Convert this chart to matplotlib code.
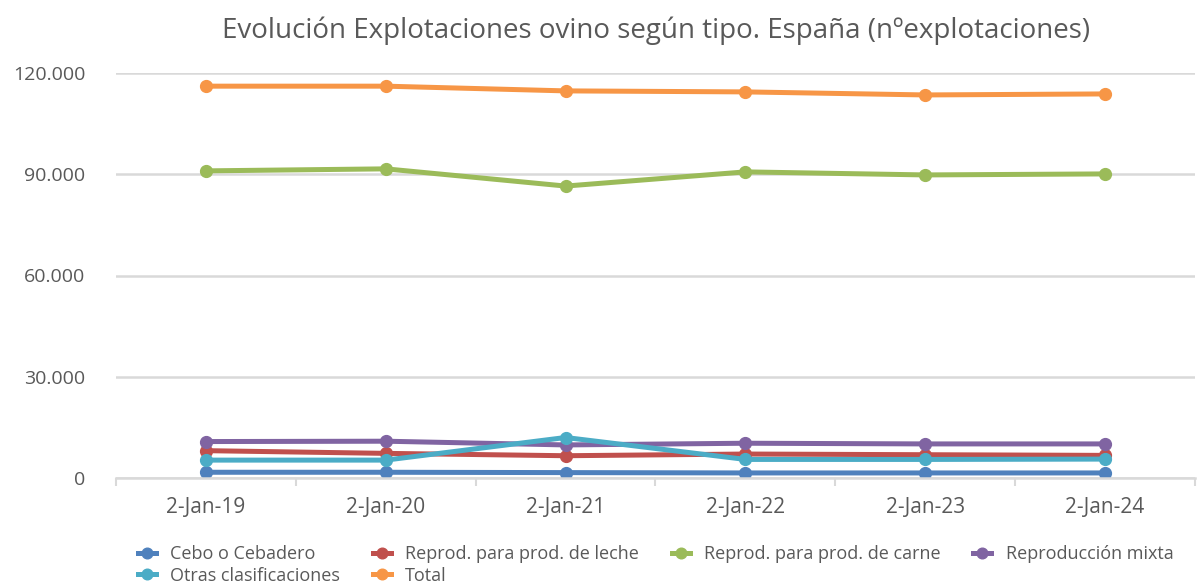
import matplotlib.pyplot as plt
from matplotlib.ticker import FuncFormatter

plt.rcParams['font.family'] = ['Open Sans', 'DejaVu Sans']

fechas = ["2-Jan-19", "2-Jan-20", "2-Jan-21", "2-Jan-22", "2-Jan-23", "2-Jan-24"]

cebo = [1700, 1700, 1600, 1500, 1500, 1500]
leche = [8100, 7300, 6600, 7100, 6900, 6700]
carne = [91000, 91600, 86500, 90700, 89800, 90100]
mixta = [10800, 10900, 9800, 10300, 10100, 10100]
otras = [5300, 5300, 12000, 5500, 5500, 5600]
total = [116100, 116100, 114700, 114400, 113500, 113800]

series = [
    ("Cebo o Cebadero", cebo, "#4F81BD"),
    ("Reprod. para prod. de leche", leche, "#C0504D"),
    ("Reprod. para prod. de carne", carne, "#9BBB59"),
    ("Reproducción mixta", mixta, "#8064A2"),
    ("Otras clasificaciones", otras, "#4BACC6"),
    ("Total", total, "#F79646"),
]

fig = plt.figure(figsize=(12.03, 5.85), dpi=100)
ax = fig.add_axes([116 / 1203, 1 - 478 / 585, 1079 / 1203, 405 / 585])

x = list(range(len(fechas)))
lineas = []
for nombre, valores, color in series:
    l, = ax.plot(x, valores, color=color, linewidth=3.6, marker="o", markersize=8.5, label=nombre)
    lineas.append(l)

ax.set_xlim(-0.5, 5.5)
ax.set_ylim(0, 120000)
ax.set_yticks([0, 30000, 60000, 90000, 120000])
ax.yaxis.set_major_formatter(FuncFormatter(lambda v, p: "0" if v == 0 else f"{int(v):,}".replace(",", ".")))
ax.set_xticks(x)
ax.set_xticklabels(fechas)
ax.set_xticks([i - 0.5 for i in range(7)], minor=True)
ax.tick_params(axis="x", which="major", length=0, pad=14, labelsize=15, labelcolor="#595959")
ax.tick_params(axis="x", which="minor", length=6, width=1.5, color="#D9D9D9")
ax.tick_params(axis="y", length=0, pad=22, labelsize=14, labelcolor="#595959")
ax.grid(axis="y", color="#D9D9D9", linewidth=1.8)
ax.set_axisbelow(True)
for s in ["top", "right", "left"]:
    ax.spines[s].set_visible(False)
ax.spines["bottom"].set_color("#D9D9D9")
ax.spines["bottom"].set_linewidth(1.8)

fig.suptitle("Evolución Explotaciones ovino según tipo. España (nºexplotaciones)",
             x=0.545, y=0.972, fontsize=20, color="#595959")

# orden por columnas para que la leyenda se lea por filas
orden = [0, 4, 1, 5, 2, 3]
fig.legend([lineas[i] for i in orden], [series[i][0] for i in orden],
           loc="lower left", bbox_to_anchor=(0.101, -0.027), ncol=4, frameon=False,
           fontsize=13, labelcolor="#595959", handlelength=1.0, columnspacing=1.8,
           handletextpad=0.8, labelspacing=0.2, markerscale=0.9)

fig.savefig("out.png", dpi=100)
